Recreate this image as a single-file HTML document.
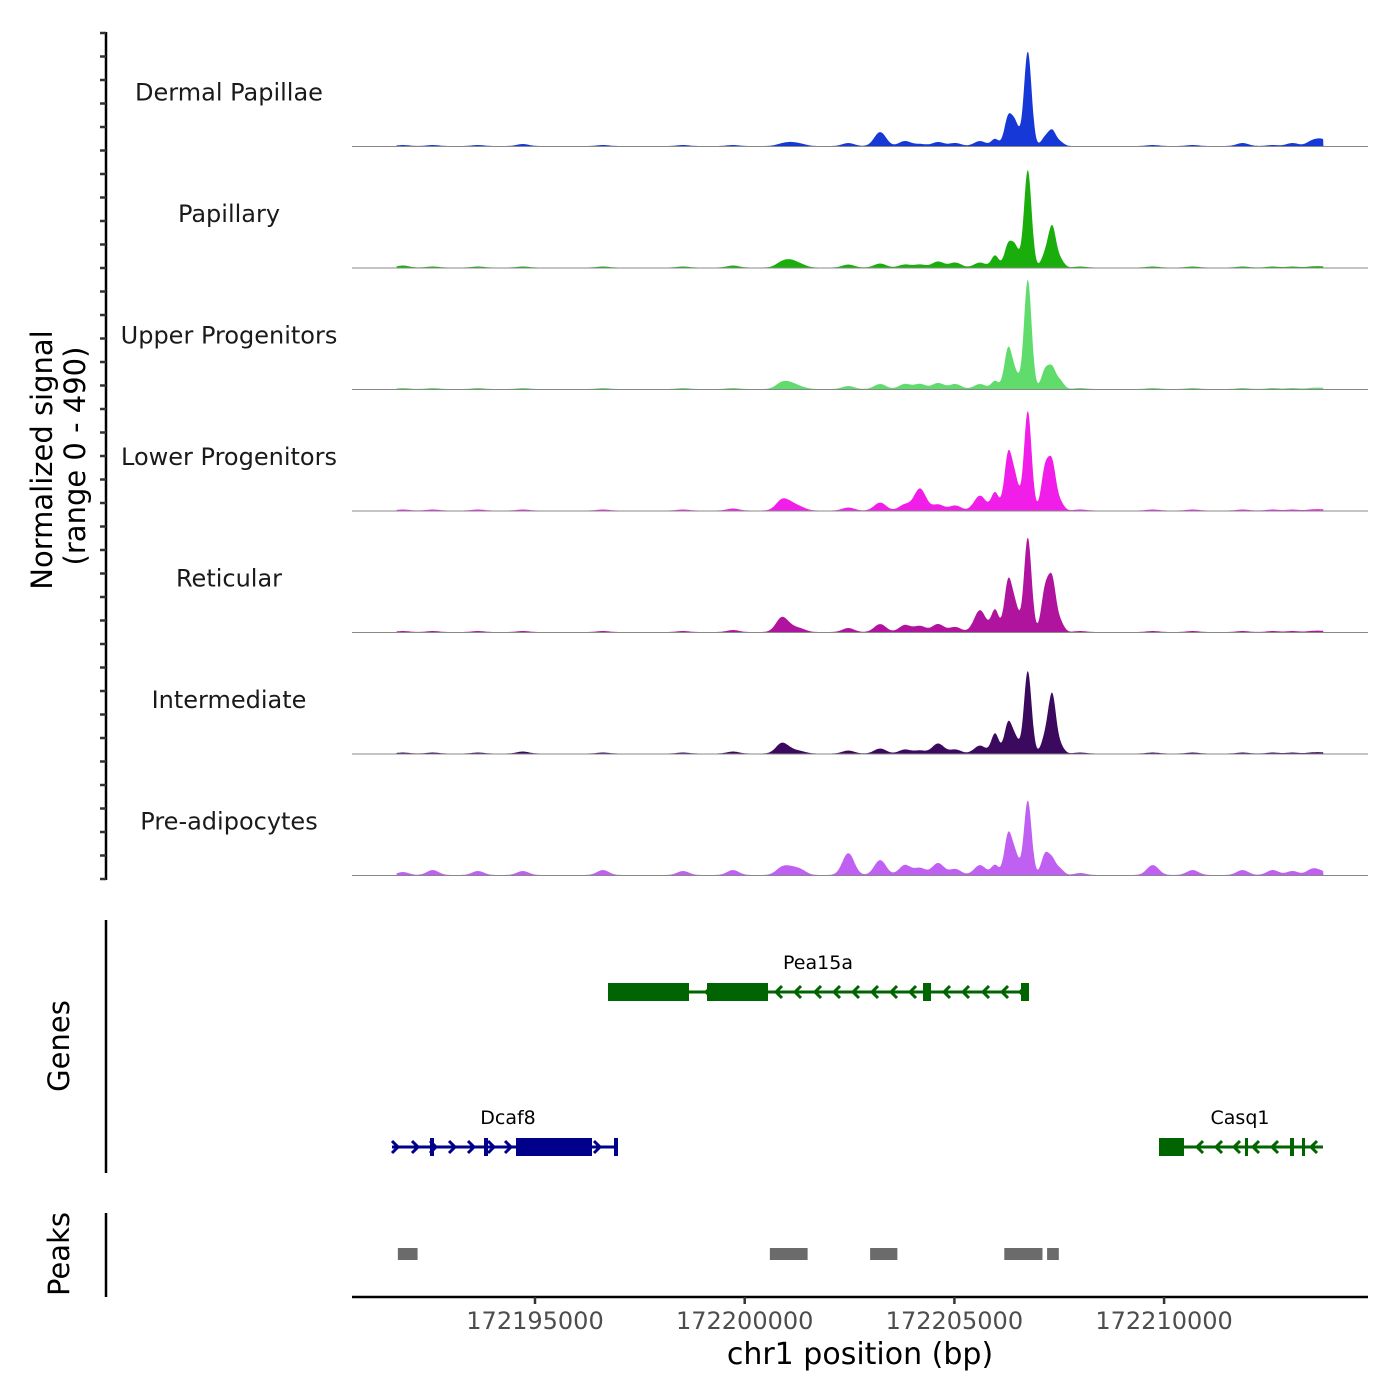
<!DOCTYPE html>
<html><head><meta charset="utf-8"><style>
html,body{margin:0;padding:0;background:#fff}
svg{display:block;font-family:"DejaVu Sans","Liberation Sans",sans-serif}
</style></head><body>
<svg id="chart" width="1400" height="1400" viewBox="0 0 1400 1400" xmlns="http://www.w3.org/2000/svg">
<g id="tracks"></g>
<g id="yaxes">
<line x1="106" y1="32" x2="106" y2="880" stroke="#000" stroke-width="2.5"/>
<line x1="106" y1="920" x2="106" y2="1173" stroke="#000" stroke-width="2.5"/>
<line x1="106" y1="1213" x2="106" y2="1297" stroke="#000" stroke-width="2.5"/>
</g>
<text transform="translate(52,460) rotate(-90)" text-anchor="middle" font-size="29">Normalized signal</text>
<text transform="translate(85,456) rotate(-90)" text-anchor="middle" font-size="29">(range 0 - 490)</text>
<text transform="translate(69,1046) rotate(-90)" text-anchor="middle" font-size="29">Genes</text>
<text transform="translate(69,1254) rotate(-90)" text-anchor="middle" font-size="29">Peaks</text>
<g id="genes"></g>
<g id="peaks"></g>
<g id="xaxis">
<line x1="352" y1="1297" x2="1368" y2="1297" stroke="#000" stroke-width="2.5"/>
</g>
<text x="860" y="1364" text-anchor="middle" font-size="30">chr1 position (bp)</text>
</svg>
<script>
const NS='http://www.w3.org/2000/svg';
// ---- data ----
const trackNames=['Dermal Papillae','Papillary','Upper Progenitors','Lower Progenitors','Reticular','Intermediate','Pre-adipocytes'];
const trackColors=['#1638d6','#1aae0c','#5fdc6c','#f01ee8','#b0149f','#3b0a5e','#c060f2'];
const peakPos=[172191850,172192560,172193640,172194710,172196620,172198530,172199720,172200880,172201100,172201330,172202470,172203230,172203820,172204180,172204610,172205020,172205610,172205970,172206280,172206450,172206750,172207160,172207330,172207520,172208000,172209730,172210680,172211870,172212590,172213060,172213540,172213780];
const dermalVals=[4,4,4,8,4,4,4,8,12,8,12,56,20,8,16,12,20,28,112,88,380,32,60,16,0,4,4,12,4,12,20,24];
const papillaryVals=[8,4,4,4,4,4,8,20,24,12,12,16,12,12,24,20,20,48,88,80,392,48,160,32,4,4,4,4,4,4,4,4];
const upperVals=[4,4,4,4,4,4,4,24,20,8,12,20,20,20,24,20,20,32,160,60,440,72,80,32,4,4,4,4,4,4,4,4];
const lowerVals=[4,4,4,4,4,4,8,40,24,12,12,32,24,88,24,20,60,72,220,120,400,160,180,32,4,4,4,4,4,4,4,4];
const reticularVals=[4,4,4,4,4,4,8,56,16,12,16,32,28,24,32,20,88,88,200,100,380,160,200,40,4,4,4,4,4,4,4,4];
const intermediateVals=[4,4,4,8,4,4,8,40,12,8,12,20,16,12,40,16,32,80,120,60,332,60,232,32,4,4,4,4,4,4,4,4];
const preadipoVals=[12,20,16,16,20,16,20,28,24,20,88,60,40,28,48,24,40,40,160,80,300,80,60,24,8,40,20,20,20,16,24,12];
const trackVals=[dermalVals,papillaryVals,upperVals,lowerVals,reticularVals,intermediateVals,preadipoVals];
const peakRegions=[[172191730,172192200],[172200600,172201500],[172202990,172203640],[172206190,172207100],[172207210,172207490]];
const ticks=[172195000,172200000,172205000,172210000];
// ---- scales ----
const x=bp=>535+(bp-172195000)*0.041940;
const trackTop=25, trackH=121.5, yMax=490;
const y=(i,v)=>trackTop+(i+1)*trackH-v/yMax*trackH;
const start=172191700,end=172213800;
const g=document.getElementById('tracks');
function el(tag,attrs,parent){const e=document.createElementNS(NS,tag);for(const k in attrs)e.setAttribute(k,attrs[k]);parent.appendChild(e);return e;}
trackNames.forEach((name,i)=>{
  const vals=trackVals[i];
  let d='M'+x(start)+','+y(i,0);
  for(let bp=start;bp<=end;bp+=12){
    const px=x(bp);let v=2;
    peakPos.forEach((p,j)=>{const s=(j>=17&&j<=23)?90:140;const dx=(bp-p)/s;v+=vals[j]*Math.exp(-dx*dx/2);});
    d+='L'+px.toFixed(1)+','+y(i,Math.min(v,yMax)).toFixed(1);
  }
  d+='L'+x(end)+','+y(i,0)+'Z';
  const p=el('path',{d:d,fill:trackColors[i]},g);
  
  
  const bl=el('line',{x1:352,x2:1368,y1:y(i,0),y2:y(i,0),stroke:'#888','stroke-width':1},g);
  
  
  const t=el('text',{x:229,y:y(i,0)-46,'text-anchor':'middle','font-size':24,fill:'#1a1a1a'},g);
  t.textContent=name;
  
  
});
// y axis ticks
const ya=document.getElementById('yaxes');
for(let k=0;k<=40;k++){const yy=33+k*23.5;if(yy>880)break;const tk=el('line',{x1:100,x2:106,y1:yy,y2:yy,stroke:'#333','stroke-width':2.5},ya);

}
// genes
const gg=document.getElementById('genes');
function gene(name,color,yy,s,e,exons,dir,lx,arrows){
  const grp=el('g',{},gg);
  
  
  el('line',{x1:s,x2:e,y1:yy,y2:yy,stroke:color,'stroke-width':3},grp);
  arrows.forEach(ax=>{const dx=dir>0?-6:6;el('polyline',{points:(ax+dx)+','+(yy-6)+' '+ax+','+yy+' '+(ax+dx)+','+(yy+6),fill:'none',stroke:color,'stroke-width':3},grp);});
  exons.forEach(ex=>el('rect',{x:ex[0],y:yy-ex[2]/2,width:ex[1]-ex[0],height:ex[2],fill:color},grp));
  const t=el('text',{x:lx,y:yy-23,'text-anchor':'middle','font-size':19,fill:'#000'},grp);t.textContent=name;
}
gene('Pea15a','#006400',992,608,1029,[[608,689,18],[707,768,18],[923,931,18],[1021,1029,18]],-1,818,[706,776,795,815,834,853,872,891,910,944,963,983,1002,1020]);
gene('Dcaf8','#00008b',1147,392,618,[[430,434,18],[484,488,18],[516,592,18],[614,618,18]],1,508,[398,418,436,455,474,494,511,600]);
gene('Casq1','#006400',1147,1159,1323,[[1159,1184,18],[1245,1248,18],[1290,1294,18],[1302,1305,18]],-1,1240,[1197,1216,1234,1253,1272,1311]);
// peaks
const pg=document.getElementById('peaks');
peakRegions.forEach(r=>{const rc=el('rect',{x:x(r[0]),y:1248,width:x(r[1])-x(r[0]),height:12,fill:'#6b6b6b'},pg);

});
// x ticks
const xa=document.getElementById('xaxis');
ticks.forEach(t=>{el('line',{x1:x(t),x2:x(t),y1:1297,y2:1304,stroke:'#333','stroke-width':2.5},xa);
const tx=el('text',{x:x(t),y:1329,'text-anchor':'middle','font-size':24,fill:'#4d4d4d'},xa);tx.textContent=t;

});
</script>
</body></html>
